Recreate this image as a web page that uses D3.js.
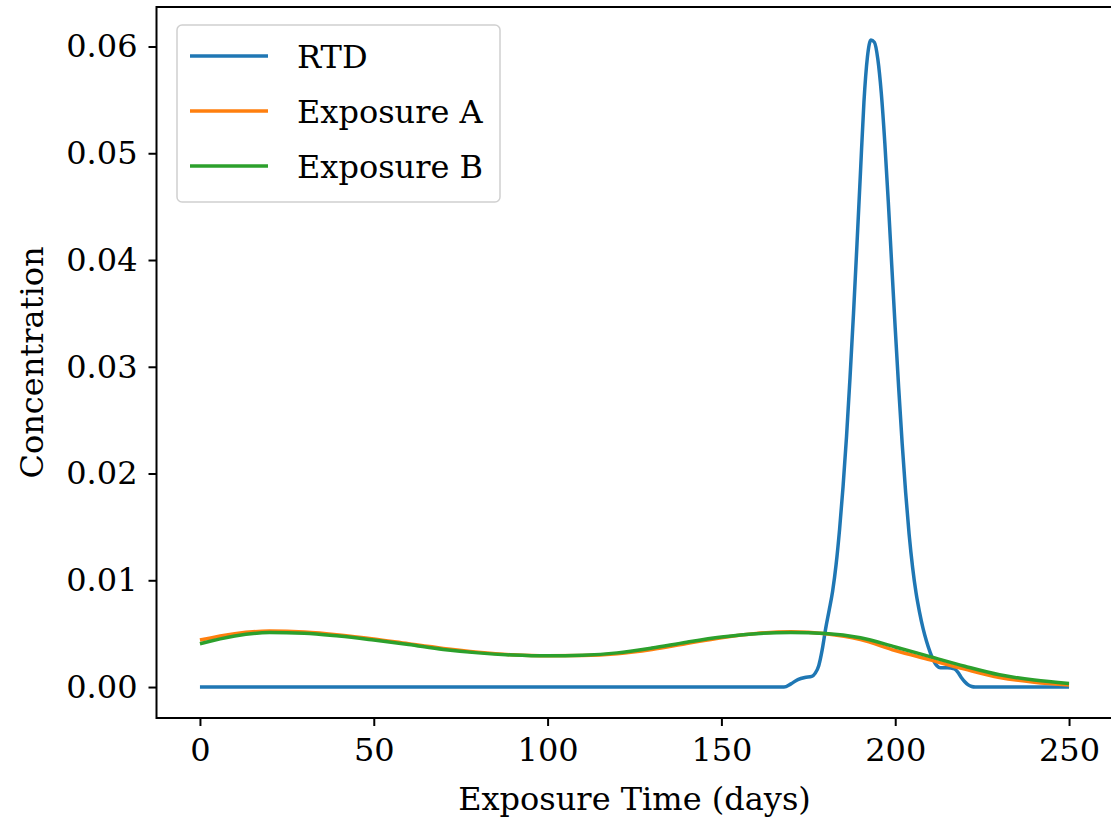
<!DOCTYPE html>
<html>
<head>
<meta charset="utf-8">
<script src="https://cdn.jsdelivr.net/npm/d3@7"></script>
<style>
  body { margin: 0; background: #fff; }
  svg text { font-family: "DejaVu Serif", "Liberation Serif", serif; fill: #000; }
</style>
</head>
<body>
<svg id="mainsvg" width="1111" height="824"></svg>
<script>
// series
const seriesNames = ['RTD', 'Exposure A', 'Exposure B'];
const seriesColors = ['#1f77b4', '#ff7f0e', '#2ca02c'];

const rtdDays = [0, 50, 100, 150, 165, 168, 170, 172, 174, 176, 177, 178, 179, 180, 181, 182, 183, 184, 185,
  186, 187, 188, 189, 190, 191, 192, 193, 194, 195, 196, 197, 198, 199, 200, 201, 202, 203, 204, 205,
  206, 207, 208, 209, 210, 211, 212, 213, 215, 217, 218, 219, 220, 221, 222, 223, 235, 250];
const rtdValues = [0, 0, 0, 0, 0, 0, 0.0003, 0.0007, 0.0009, 0.0010, 0.0013, 0.0020, 0.0035, 0.0055, 0.0072, 0.0090, 0.0115, 0.0148, 0.0188,
  0.0235, 0.0290, 0.0350, 0.0415, 0.0482, 0.0548, 0.0590, 0.0606, 0.0604, 0.0588, 0.0556, 0.0510, 0.0455, 0.0395, 0.0336, 0.0280, 0.0228, 0.0182, 0.0143, 0.0112,
  0.0088, 0.0070, 0.0055, 0.0043, 0.0033, 0.0025, 0.0020, 0.0018, 0.0018, 0.0017, 0.0014, 0.0009, 0.0005, 0.0002, 0.00005, 0, 0, 0];

const expDays = [0, 10, 20, 30, 40, 50, 60, 70, 80, 90, 100, 110, 120, 130, 140, 150, 160, 170, 180, 190, 200, 210, 220, 230, 240, 250];
const expAValues = [0.00440, 0.00500, 0.00524, 0.00515, 0.00488, 0.00450, 0.00405, 0.00362, 0.00327, 0.00302, 0.00292, 0.00295, 0.00312,
  0.00352, 0.00408, 0.00462, 0.00502, 0.00518, 0.00500, 0.00445, 0.00342, 0.00255, 0.00168, 0.00090, 0.00045, 0.00019];
const expBValues = [0.00405, 0.00478, 0.00510, 0.00505, 0.00478, 0.00440, 0.00398, 0.00352, 0.00320, 0.00300, 0.00292, 0.00298, 0.00320,
  0.00365, 0.00420, 0.00468, 0.00500, 0.00510, 0.00502, 0.00462, 0.00375, 0.00285, 0.00195, 0.00115, 0.00065, 0.00034];

const xTicks = [0, 50, 100, 150, 200, 250];
const yTicks = [0, 0.01, 0.02, 0.03, 0.04, 0.05, 0.06];

const svg = d3.select('#mainsvg');
const plot = {left: 156.5, right: 1112.5, top: 7, bottom: 718};

const xScale = d3.scaleLinear().domain([-12.5, 262.5]).range([plot.left, plot.right]);
const yScale = d3.scaleLinear().domain([-0.0029, 0.0637]).range([plot.bottom, plot.top]);

const series = [
  rtdDays.map((d, i) => [d, rtdValues[i]]),
  expDays.map((d, i) => [d, expAValues[i]]),
  expDays.map((d, i) => [d, expBValues[i]])
];

const line = d3.line()
  .x(d => xScale(d[0]))
  .y(d => yScale(d[1]))
  .curve(d3.curveMonotoneX);

// lines
svg.append('g').selectAll('path')
  .data(series)
  .enter().append('path')
  .attr('d', line)
  .attr('fill', 'none')
  .attr('stroke', (d, i) => seriesColors[i])
  .attr('stroke-width', 3.5)
  .attr('stroke-linejoin', 'round')
  .attr('stroke-linecap', 'butt');

// frame
svg.append('rect')
  .attr('x', plot.left).attr('y', plot.top)
  .attr('width', plot.right - plot.left).attr('height', plot.bottom - plot.top)
  .attr('fill', 'none').attr('stroke', '#000').attr('stroke-width', 2);

// x axis
const xAxis = svg.append('g')
  .attr('transform', `translate(0, ${plot.bottom})`)
  .call(d3.axisBottom(xScale).tickValues(xTicks).tickSize(8).tickPadding(12).tickFormat(d3.format('d')));
xAxis.select('.domain').remove();
xAxis.selectAll('line').attr('stroke-width', 2);
xAxis.selectAll('text').style('font-size', '32px').attr('font-family', null);

// y axis
const yAxis = svg.append('g')
  .attr('transform', `translate(${plot.left}, 0)`)
  .call(d3.axisLeft(yScale).tickValues(yTicks).tickSize(8).tickPadding(11).tickFormat(d3.format('.2f')));
yAxis.select('.domain').remove();
yAxis.selectAll('line').attr('stroke-width', 2);
yAxis.selectAll('text').style('font-size', '32px').attr('font-family', null);

// axis labels
svg.append('text')
  .attr('x', (xScale(0) + xScale(250)) / 2 + 0)
  .attr('y', 810)
  .attr('text-anchor', 'middle')
  .style('font-size', '32px')
  .text('Exposure Time (days)');

svg.append('text')
  .attr('transform', `translate(43, ${(plot.top + plot.bottom) / 2}) rotate(-90)`)
  .attr('text-anchor', 'middle')
  .style('font-size', '32px')
  .text('Concentration');

// legend
const legend = svg.append('g');
legend.append('rect')
  .attr('x', 177).attr('y', 25)
  .attr('width', 323).attr('height', 177)
  .attr('rx', 5)
  .attr('fill', '#fff').attr('fill-opacity', 0.8)
  .attr('stroke', '#d0d0d0').attr('stroke-width', 1.5);

seriesNames.forEach((name, i) => {
  const y = 56 + i * 55;
  legend.append('line')
    .attr('x1', 190).attr('x2', 268)
    .attr('y1', y).attr('y2', y)
    .attr('stroke', seriesColors[i]).attr('stroke-width', 3.5);
  legend.append('text')
    .attr('x', 297).attr('y', y + 12)
    .style('font-size', '32px')
    .text(name);
});
</script>
</body>
</html>
